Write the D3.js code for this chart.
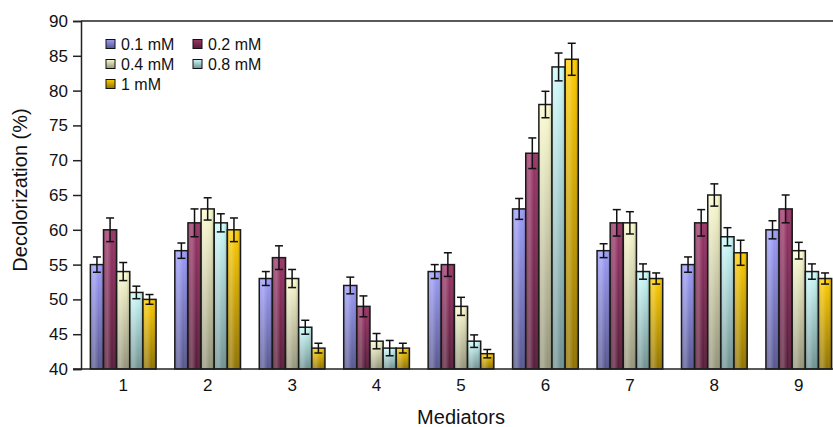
<!DOCTYPE html>
<html>
<head>
<meta charset="utf-8">
<script src="https://cdn.jsdelivr.net/npm/d3@7"></script>
<style>
  body { margin: 0; background: #fff; }
  text { font-family: "Liberation Sans", Arial, sans-serif; fill: #111; }
</style>
</head>
<body>
<div id="chart"></div>
<script>
// data
var mediators = ["1", "2", "3", "4", "5", "6", "7", "8", "9"];
var seriesNames = ["0.1 mM", "0.2 mM", "0.4 mM", "0.8 mM", "1 mM"];
var yTicks = [40, 45, 50, 55, 60, 65, 70, 75, 80, 85, 90];

var v01 = [55, 57, 53, 52, 54, 63, 57, 55, 60];
var v02 = [60, 61, 56, 49, 55, 71, 61, 61, 63];
var v04 = [54, 63, 53, 44, 49, 78, 61, 65, 57];
var v08 = [51, 61, 46, 43, 44, 83.4, 54, 59, 54];
var v1  = [50, 60, 43, 43, 42.2, 84.5, 53, 56.7, 53];

var e01 = [1.1, 1.1, 1.0, 1.2, 1.0, 1.5, 1.0, 1.1, 1.3];
var e02 = [1.7, 2.0, 1.7, 1.5, 1.7, 2.2, 1.9, 1.9, 2.0];
var e04 = [1.3, 1.6, 1.3, 1.1, 1.3, 1.9, 1.6, 1.6, 1.2];
var e08 = [0.9, 1.3, 1.0, 1.1, 0.9, 2.0, 1.1, 1.3, 1.1];
var e1  = [0.7, 1.7, 0.7, 0.7, 0.6, 2.3, 0.8, 1.8, 0.8];

var values = [v01, v02, v04, v08, v1];
var errors = [e01, e02, e04, e08, e1];

// top / bottom shades of each series
var topColors = ["#9d9dfb", "#9b3468", "#fbfbcf", "#ccfbfb", "#ffcc00"];
var bottomColors = ["#56568f", "#561b38", "#94947a", "#6f9090", "#8f7200"];

var width = 833, height = 427;
var margin = { top: 21, right: -8, bottom: 58, left: 81 };

var svg = d3.select("#chart").append("svg")
  .attr("width", width)
  .attr("height", height);

var defs = svg.append("defs");
seriesNames.forEach(function (s, i) {
  var g = defs.append("linearGradient")
    .attr("id", "fill" + i)
    .attr("x1", 0).attr("y1", 0).attr("x2", 0).attr("y2", 1);
  g.append("stop").attr("offset", "0%").attr("stop-color", topColors[i]);
  g.append("stop").attr("offset", "100%").attr("stop-color", bottomColors[i]);
});
var shine = defs.append("linearGradient")
  .attr("id", "shine")
  .attr("x1", 0).attr("y1", 0).attr("x2", 1).attr("y2", 0);
shine.append("stop").attr("offset", "0%").attr("stop-color", "#fff").attr("stop-opacity", 0.15);
shine.append("stop").attr("offset", "30%").attr("stop-color", "#fff").attr("stop-opacity", 0.25);
shine.append("stop").attr("offset", "65%").attr("stop-color", "#fff").attr("stop-opacity", 0);
shine.append("stop").attr("offset", "100%").attr("stop-color", "#000").attr("stop-opacity", 0.25);

var x0 = d3.scaleBand()
  .domain(mediators)
  .range([margin.left, width - margin.right])
  .paddingInner(0.222)
  .paddingOuter(0.111);

var x1 = d3.scaleBand()
  .domain(d3.range(seriesNames.length))
  .range([0, x0.bandwidth()]);

var y = d3.scaleLinear()
  .domain([40, 90])
  .range([height - margin.bottom, margin.top]);

// frame line on top
svg.append("line")
  .attr("x1", margin.left).attr("x2", width)
  .attr("y1", y(90)).attr("y2", y(90))
  .attr("stroke", "#222").attr("stroke-width", 1.5);

// bars
var groups = svg.selectAll(".grp")
  .data(mediators)
  .enter().append("g")
  .attr("class", "grp")
  .attr("transform", function (d) { return "translate(" + x0(d) + ",0)"; });

seriesNames.forEach(function (s, si) {
  groups.append("rect")
    .attr("x", function (d, gi) { return x1(si); })
    .attr("y", function (d, gi) { return y(values[si][gi]); })
    .attr("width", x1.bandwidth())
    .attr("height", function (d, gi) { return y(40) - y(values[si][gi]); })
    .attr("fill", "url(#fill" + si + ")");
  groups.append("rect")
    .attr("x", function (d, gi) { return x1(si); })
    .attr("y", function (d, gi) { return y(values[si][gi]); })
    .attr("width", x1.bandwidth())
    .attr("height", function (d, gi) { return y(40) - y(values[si][gi]); })
    .attr("fill", "url(#shine)")
    .attr("stroke", "#1a1a1a")
    .attr("stroke-width", 1.5);
});

// error bars
var cap = 4;
seriesNames.forEach(function (s, si) {
  var eb = groups.append("g").attr("stroke", "#111").attr("stroke-width", 1.5);
  groups.each(function (d, gi) {
    var g = d3.select(this);
    var cx = x1(si) + x1.bandwidth() / 2;
    var hi = y(values[si][gi] + errors[si][gi]);
    var lo = y(values[si][gi] - errors[si][gi]);
    var e = g.append("g").attr("stroke", "#111").attr("stroke-width", 1.5);
    e.append("line").attr("x1", cx).attr("x2", cx).attr("y1", hi).attr("y2", lo);
    e.append("line").attr("x1", cx - cap).attr("x2", cx + cap).attr("y1", hi).attr("y2", hi);
    e.append("line").attr("x1", cx - cap).attr("x2", cx + cap).attr("y1", lo).attr("y2", lo);
  });
  eb.remove();
});

// axes
var yAxis = d3.axisLeft(y)
  .tickValues(yTicks)
  .tickSize(8)
  .tickPadding(5);

var yg = svg.append("g")
  .attr("transform", "translate(" + margin.left + ",0)")
  .call(yAxis);
yg.select(".domain").attr("stroke", "#222").attr("stroke-width", 1.5);
yg.selectAll(".tick line").attr("stroke", "#222").attr("stroke-width", 1.5);
yg.selectAll("text").style("font-size", "17px").attr("fill", "#111");

var xAxis = d3.axisBottom(x0).tickSize(0).tickPadding(10);
var xg = svg.append("g")
  .attr("transform", "translate(0," + y(40) + ")")
  .call(xAxis);
xg.select(".domain").remove();
xg.selectAll("text").style("font-size", "17px").attr("fill", "#111");

svg.append("line")
  .attr("x1", margin.left - 8).attr("x2", width)
  .attr("y1", y(40)).attr("y2", y(40))
  .attr("stroke", "#222").attr("stroke-width", 1.5);

// axis titles
svg.append("text")
  .attr("x", 461)
  .attr("y", 424)
  .attr("text-anchor", "middle")
  .style("font-size", "20px")
  .text("Mediators");

svg.append("text")
  .attr("transform", "translate(27,190) rotate(-90)")
  .attr("text-anchor", "middle")
  .style("font-size", "20px")
  .text("Decolorization (%)");

// legend
var legX = [106, 193], legY = [44, 64, 84];
seriesNames.forEach(function (s, i) {
  var lx = legX[i % 2], ly = legY[Math.floor(i / 2)];
  svg.append("rect")
    .attr("x", lx).attr("y", ly - 4.5)
    .attr("width", 9).attr("height", 9)
    .attr("fill", "url(#fill" + i + ")")
    .attr("stroke", "#111").attr("stroke-width", 1);
  svg.append("text")
    .attr("x", lx + 15).attr("y", ly)
    .attr("dy", "0.36em")
    .style("font-size", "16px")
    .text(s);
});
</script>
</body>
</html>
